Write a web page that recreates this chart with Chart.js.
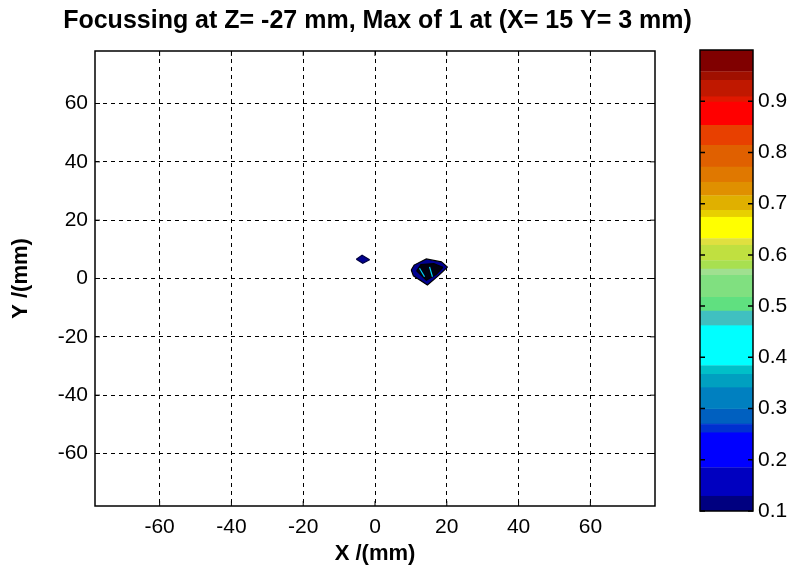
<!DOCTYPE html>
<html><head><meta charset="utf-8">
<script src="https://cdn.jsdelivr.net/npm/chart.js@4"></script>
<style>
html,body{margin:0;padding:0;background:#fff;}
#wrap{position:relative;width:793px;height:572px;overflow:hidden;}
#main{position:absolute;left:0;top:0;}
#cb{position:absolute;left:695px;top:0;}
</style></head><body>
<div id="wrap"><canvas id="main" width="793" height="572"></canvas><canvas id="cb" width="98" height="572"></canvas></div>
<script>
// ---------- data ----------
const titleText = 'Focussing at Z= -27 mm, Max of 1 at (X= 15 Y= 3 mm)';
const xTitle = 'X /(mm)';
const yTitle = 'Y /(mm)';
const xTicks = [-60, -40, -20, 0, 20, 40, 60];
const yTicks = [-60, -40, -20, 0, 20, 40, 60];
const xRange = [-78, 78];
const yRange = [-78, 78];
const cbTicks = [0.1, 0.2, 0.3, 0.4, 0.5, 0.6, 0.7, 0.8, 0.9];
const cbRange = [0.1, 1.0];
const levelEdges = [0.1, 0.129, 0.185, 0.253, 0.270, 0.299, 0.341, 0.367, 0.384, 0.462, 0.491, 0.517, 0.560, 0.573, 0.589, 0.619, 0.632, 0.674, 0.687, 0.716, 0.742, 0.772, 0.814, 0.853, 0.899, 0.909, 0.941, 0.958, 1.0];
const levelColors = ['#000080', '#0000c0', '#0000ff', '#0030d0', '#0060c0', '#0080c0', '#00a0c0', '#00c0c8', '#00ffff', '#40c0c0', '#60e080', '#80e080', '#a0e090', '#a8e050', '#c0e040', '#e0e040', '#ffff00', '#e8d000', '#e0b000', '#e09000', '#e07800', '#e06000', '#e84000', '#ff0000', '#e01800', '#c01800', '#a01000', '#800000'];

// main focal spot (outer contour, split into upper / lower edges)
const mainOuterUpper = [{x: 10.1, y: 2.9}, {x: 10.9, y: 4.6}, {x: 14.3, y: 6.7}, {x: 18.5, y: 5.7}, {x: 20.2, y: 3.9}];
const mainOuterLower = [{x: 10.1, y: 2.9}, {x: 10.7, y: 0.9}, {x: 14.6, y: -2.2}, {x: 17.6, y: 0.9}, {x: 20.2, y: 3.9}];
// inner dense contours
const mainInnerUpper = [{x: 11.6, y: 2.6}, {x: 12.8, y: 4.8}, {x: 16.4, y: 5.1}, {x: 18.9, y: 3.8}];
const mainInnerLower = [{x: 11.6, y: 2.6}, {x: 14.3, y: -0.6}, {x: 17.0, y: 1.4}, {x: 18.9, y: 3.8}];
// cyan streaks inside the spot
const streak1 = [{x: 12.4, y: 3.5}, {x: 13.8, y: 0.6}];
const streak2 = [{x: 15.2, y: 4.0}, {x: 16.0, y: 0.6}];
// small side lobe
const lobeUpper = [{x: -5.2, y: 6.6}, {x: -3.6, y: 8.0}, {x: -1.5, y: 6.4}];
const lobeLower = [{x: -5.2, y: 6.6}, {x: -3.4, y: 5.2}, {x: -1.5, y: 6.4}];

// ---------- helpers ----------
const FONT = "'Liberation Sans', Arial, Helvetica, sans-serif";

function edgeSet(points, color, border, order, fill) {
  return {data: points, showLine: true, pointRadius: 0, borderColor: border, borderWidth: 1.2,
    backgroundColor: color, fill: fill, order: order, tension: 0};
}

const frameTicks = {
  id: 'frameTicks',
  afterDraw(chart) {
    const {ctx, chartArea: a, scales} = chart;
    ctx.save();
    ctx.strokeStyle = '#000';
    ctx.lineWidth = 1.5;
    ctx.setLineDash([]);
    ctx.strokeRect(a.left, a.top, a.right - a.left, a.bottom - a.top);
    ctx.lineWidth = 1;
    const L = 5;
    ctx.beginPath();
    xTicks.forEach(v => {
      const px = scales.x.getPixelForValue(v);
      ctx.moveTo(px, a.bottom); ctx.lineTo(px, a.bottom - L);
      ctx.moveTo(px, a.top); ctx.lineTo(px, a.top + L);
    });
    yTicks.forEach(v => {
      const py = scales.y.getPixelForValue(v);
      ctx.moveTo(a.left, py); ctx.lineTo(a.left + L, py);
      ctx.moveTo(a.right, py); ctx.lineTo(a.right - L, py);
    });
    ctx.stroke();
    ctx.restore();
  }
};

new Chart(document.getElementById('main'), {
  type: 'scatter',
  data: {
    datasets: [
      edgeSet(streak1, '#00e0ff', '#00d8ff', 1, false),
      edgeSet(streak2, '#00e0ff', '#00d8ff', 1, false),
      edgeSet(mainInnerUpper, '#000010', '#000000', 5, false),
      edgeSet(mainInnerLower, '#000010', '#000000', 5, '-1'),
      edgeSet(mainOuterUpper, '#000090', '#000000', 10, false),
      edgeSet(mainOuterLower, '#000090', '#000000', 10, '-1'),
      edgeSet(lobeUpper, '#000090', '#000040', 10, false),
      edgeSet(lobeLower, '#000090', '#000040', 10, '-1')
    ]
  },
  options: {
    responsive: false,
    animation: false,
    events: [],
    layout: {padding: {left: 50, right: 88, top: 0, bottom: 0}},
    plugins: {
      legend: {display: false},
      tooltip: {enabled: false},
      title: {display: true, text: titleText, fullSize: true, color: '#000',
        font: {family: FONT, size: 25, weight: 'bold'}, padding: {top: 6, bottom: 15}}
    },
    scales: {
      x: {
        type: 'linear', min: xRange[0], max: xRange[1],
        afterBuildTicks: s => { s.ticks = xTicks.map(v => ({value: v})); },
        afterFit: s => { s.height = 66; },
        ticks: {color: '#000', font: {family: FONT, size: 21}, padding: 9, maxRotation: 0, autoSkip: false},
        grid: {color: '#000', lineWidth: 1, drawTicks: false},
        border: {display: false, dash: [4, 4]},
        title: {display: true, text: xTitle, color: '#000', font: {family: FONT, size: 22, weight: 'bold'}, padding: {top: 0, bottom: 4.8}}
      },
      y: {
        type: 'linear', min: yRange[0], max: yRange[1],
        afterBuildTicks: s => { s.ticks = yTicks.map(v => ({value: v})); },
        afterFit: s => { s.width = 45; },
        ticks: {color: '#000', font: {family: FONT, size: 21}, padding: 7, autoSkip: false},
        grid: {color: '#000', lineWidth: 1, drawTicks: false},
        border: {display: false, dash: [4, 4]},
        title: {display: true, text: yTitle, color: '#000', font: {family: FONT, size: 22, weight: 'bold'}, padding: {top: -42, bottom: 0}}
      },
      yRight: {
        type: 'linear', position: 'right', min: yRange[0], max: yRange[1],
        afterFit: s => { s.width = 50; },
        ticks: {display: false},
        grid: {display: false, drawTicks: false},
        border: {display: false}
      }
    }
  },
  plugins: [frameTicks]
});

// ---------- colour bar ----------
const cbFrame = {
  id: 'cbFrame',
  afterDraw(chart) {
    const {ctx, chartArea: a, scales} = chart;
    ctx.save();
    ctx.strokeStyle = '#000';
    ctx.lineWidth = 1.5;
    ctx.strokeRect(a.left, a.top, a.right - a.left, a.bottom - a.top);
    ctx.lineWidth = 1.5;
    const L = 5;
    ctx.beginPath();
    cbTicks.forEach(v => {
      const py = scales.y.getPixelForValue(v);
      ctx.moveTo(a.left, py); ctx.lineTo(a.left + L, py);
      ctx.moveTo(a.right, py); ctx.lineTo(a.right - L, py);
    });
    ctx.stroke();
    ctx.restore();
  }
};

new Chart(document.getElementById('cb'), {
  type: 'bar',
  data: {
    labels: ['level'],
    datasets: levelColors.map((c, i) => ({
      data: [[levelEdges[i], levelEdges[i + 1]]],
      backgroundColor: c, borderColor: c, borderWidth: 0.6, borderSkipped: false,
      grouped: false, barPercentage: 1, categoryPercentage: 1
    }))
  },
  options: {
    responsive: false,
    animation: false,
    events: [],
    layout: {padding: {left: 5, right: 0, top: 50, bottom: 61}},
    plugins: {legend: {display: false}, tooltip: {enabled: false}, title: {display: false}},
    scales: {
      x: {display: false},
      y: {
        position: 'right', min: cbRange[0], max: cbRange[1],
        afterBuildTicks: s => { s.ticks = cbTicks.map(v => ({value: v})); },
        afterFit: s => { s.width = 40; },
        ticks: {color: '#000', font: {family: FONT, size: 21}, padding: 5, autoSkip: false,
          callback: v => Number(v).toFixed(1)},
        grid: {display: false, drawTicks: false},
        border: {display: false}
      }
    }
  },
  plugins: [cbFrame]
});
</script>
</body></html>
